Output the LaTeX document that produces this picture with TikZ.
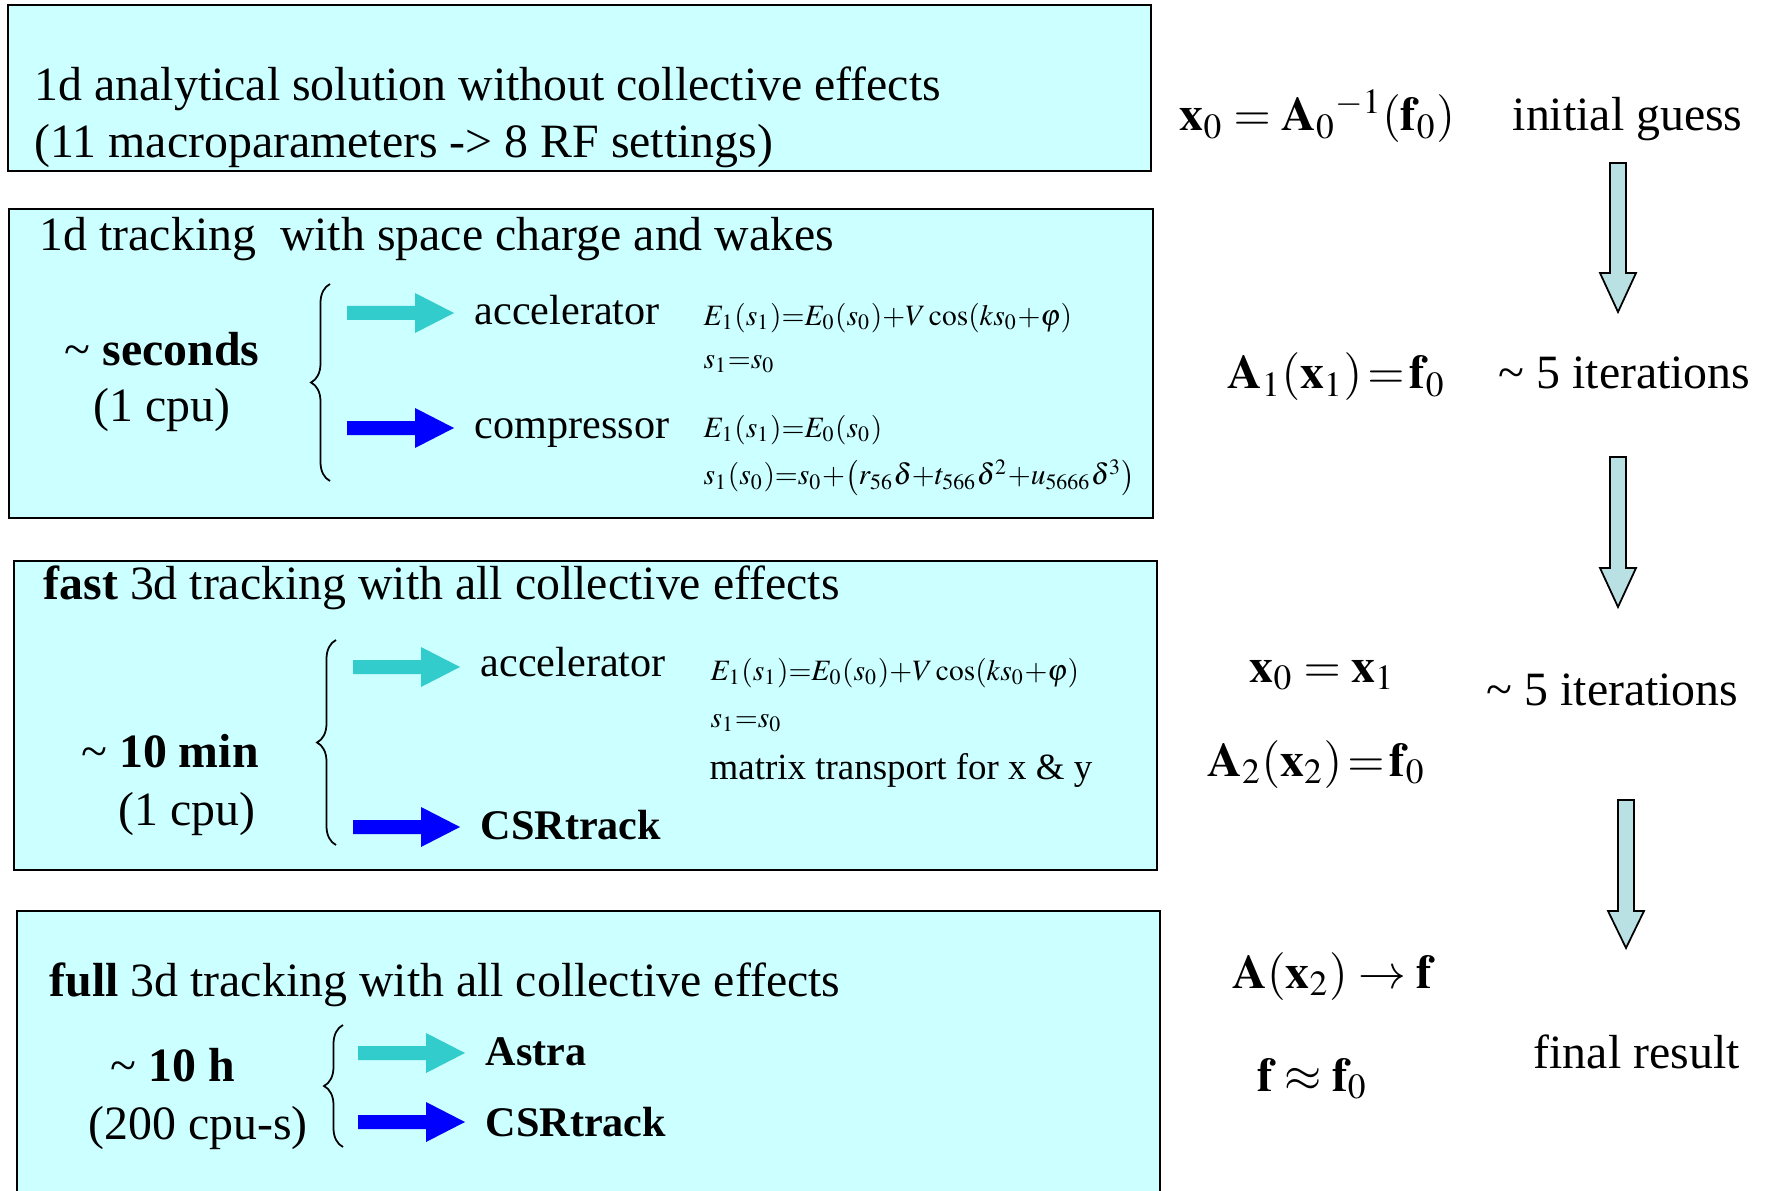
\documentclass[tikz,border=0pt]{standalone}
\usepackage{mathptmx}
\usepackage[no-math]{fontspec}
\setmainfont{Liberation Serif}
\usetikzlibrary{decorations.pathreplacing}

\definecolor{panelcyan}{RGB}{204,255,255}
\definecolor{accelcyan}{RGB}{51,204,204}
\definecolor{compblue}{RGB}{0,0,255}
\definecolor{iterfill}{RGB}{185,224,227}

\tikzset{
  panel/.style={fill=panelcyan,draw=black,line width=0.7pt},
  txt/.style={anchor=base west,inner sep=0pt,font=\fontsize{13.6}{16}\selectfont},
  ctxt/.style={txt,anchor=base},
  lbl/.style={txt,font=\fontsize{12}{14}\selectfont},
  eqn/.style={txt,font=\fontsize{8.4}{10}\selectfont},
  note/.style={txt,font=\fontsize{10.5}{12}\selectfont},
  lbrace/.style={decorate,decoration={brace,amplitude=1.9mm},line width=0.5pt},
  iterarr/.style={fill=iterfill,draw=black,line width=0.5pt}
}

% horizontal block arrow: style, left x, centre y
\newcommand{\sidearrow}[3]{%
  \fill[#1] ({#2},{#3-7}) -- ++(68,0) -- ++(0,-13) -- ++(39,20) -- ++(-39,20) -- ++(0,-13) -- ++(-68,0) -- cycle;}
% vertical hollow arrow: centre x, shaft top, head start, tip
\newcommand{\iterarrow}[4]{%
  \draw[iterarr] ({#1-8},{#2}) -- ({#1+8},{#2}) -- ({#1+8},{#3}) -- ({#1+18},{#3}) -- ({#1},{#4}) -- ({#1-18},{#3}) -- ({#1-8},{#3}) -- cycle;}

\begin{document}
\begin{tikzpicture}[x=0.01cm,y=-0.01cm]
\clip (0,0) rectangle (1769,1191);
\fill[white] (0,0) rectangle (1769,1191);

% panels
\draw[panel] (8,5) rectangle (1151,171);
\draw[panel] (9,209) rectangle (1153,518);
\draw[panel] (14,561) rectangle (1157,870);
\draw[panel] (17,911) rectangle (1160,1220);

% panel 1
\node[txt] (p1a) at (34,101) {1d analytical solution without collective effects};
\node[txt] (p1b) at (34,158) {(11 macroparameters -> 8 RF settings)};

% panel 2
\node[txt] (p2t) at (39,251) {1d tracking\ \ with space charge and wakes};
\node[ctxt] (p2time) at (162,365) {\textasciitilde{} \textbf{seconds}};
\node[ctxt] (p2cpu) at (162,422) {(1 cpu)};
\draw[lbrace] (330,481) -- (330,284);
\sidearrow{accelcyan}{347}{313}
\sidearrow{compblue}{347}{428}
\node[lbl] (p2acc) at (474,324) {accelerator};
\node[lbl] (p2comp) at (474,439) {compressor};
\node[eqn] (p2e1) at (703,325) {$E_1(s_1){=}E_0(s_0){+}V\cos(ks_0{+}\varphi)$};
\node[eqn] (p2e2) at (703,368) {$s_1{=}s_0$};
\node[eqn] (p2e3) at (703,437) {$E_1(s_1){=}E_0(s_0)$};
\node[eqn] (p2e4) at (703,485) {$s_1(s_0){=}s_0{+}\bigl(r_{56}\delta{+}t_{566}\delta^2{+}u_{5666}\delta^3\bigr)$};

% panel 3
\node[txt] (p3t) at (43,599) {\textbf{fast} 3d tracking with all collective effects};
\node[ctxt] (p3time) at (170,767) {\textasciitilde{} \textbf{10 min}};
\node[ctxt] (p3cpu) at (187,825) {(1 cpu)};
\draw[lbrace] (336,845) -- (336,640);
\sidearrow{accelcyan}{353}{667}
\sidearrow{compblue}{353}{827}
\node[lbl] (p3acc) at (480,676) {accelerator};
\node[lbl] (p3csr) at (480,839) {\textbf{CSRtrack}};
\node[eqn] (p3e1) at (710,680) {$E_1(s_1){=}E_0(s_0){+}V\cos(ks_0{+}\varphi)$};
\node[eqn] (p3e2) at (710,727) {$s_1{=}s_0$};
\node[note] (p3mat) at (709,779) {matrix transport for x \& y};

% panel 4
\node[txt] (p4t) at (49,996) {\textbf{full} 3d tracking with all collective effects};
\node[ctxt] (p4time) at (173,1081) {\textasciitilde{} \textbf{10 h}};
\node[ctxt] (p4cpu) at (198,1139) {(200 cpu-s)};
\draw[lbrace] (343,1147) -- (343,1025);
\sidearrow{accelcyan}{358}{1053}
\sidearrow{compblue}{358}{1122}
\node[lbl] (p4astra) at (485,1065) {\textbf{Astra}};
\node[lbl] (p4csr) at (485,1136) {\textbf{CSRtrack}};

% iteration column
\node[txt] (m0) at (1179,131) {$\mathbf{x}_0 = \mathbf{A}_0{}^{-1}(\mathbf{f}_0)$};
\node[txt] (c0) at (1512,131) {initial guess};
\iterarrow{1618}{163}{273}{312}
\node[txt] (m1) at (1227,389) {$\mathbf{A}_1(\mathbf{x}_1)\mskip-2mu=\mskip-2mu\mathbf{f}_0$};
\node[txt] (c1) at (1498,389) {\textasciitilde{} 5 iterations};
\iterarrow{1618}{457}{568}{607}
\node[txt] (m2) at (1249,682) {$\mathbf{x}_0 = \mathbf{x}_1$};
\node[txt] (c2) at (1486,705) {\textasciitilde{} 5 iterations};
\node[txt] (m3) at (1207,776) {$\mathbf{A}_2(\mathbf{x}_2)\mskip-2mu=\mskip-2mu\mathbf{f}_0$};
\iterarrow{1626}{800}{911}{948}
\node[txt] (m4) at (1232,988) {$\mathbf{A}(\mathbf{x}_2)\to\mathbf{f}$};
\node[txt] (m5) at (1257,1091) {$\mathbf{f}\approx\mathbf{f}_0$};
\node[txt] (c3) at (1533,1068) {final result};
\end{tikzpicture}
\end{document}
